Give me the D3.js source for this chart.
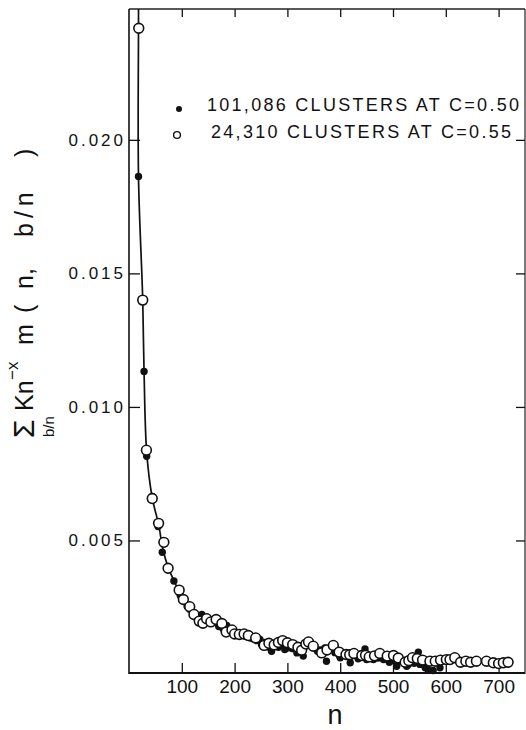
<!DOCTYPE html>
<html>
<head>
<meta charset="utf-8">
<script src="https://cdn.jsdelivr.net/npm/d3@7"></script>
<style>
  html, body { margin: 0; padding: 0; background: #fff; }
  svg { display: block; }
  text { font-family: "Liberation Sans", Arial, sans-serif; fill: #111; }
</style>
</head>
<body>
<svg id="chart" width="526" height="730"></svg>
<script>
// ---- data ----
const xTicks = [100, 200, 300, 400, 500, 600, 700];
const xTickLabels = ["100", "200", "300", "400", "500", "600", "700"];
const yTicks = [0.005, 0.010, 0.015, 0.020];
const yTickLabels = ["0.005", "0.010", "0.015", "0.020"];

const seriesNames = ["101,086  CLUSTERS AT C=0.50", "24,310  CLUSTERS AT C=0.55"];

// filled dots: C = 0.50
const filledN = [18, 28.5, 33.5, 44, 55, 63, 74, 85, 97, 110, 115, 123, 128, 138, 141, 150, 155, 160, 170, 178,
  185, 191, 195, 200, 204, 207, 212, 216, 222, 230, 235, 242, 248, 251, 258, 264, 267, 270, 278, 283,
  288, 295, 302, 310, 318, 318, 325, 330, 335, 343, 350, 357, 362, 371, 374, 381, 390, 399, 400, 410,
  419, 421, 430, 434, 440, 447, 450, 463, 470, 475, 482, 493, 494, 500, 507, 516, 523, 526, 529, 540,
  548, 551, 561, 567, 576, 589];
const filledV = [0.01863, 0.01133, 0.00815, 0.00665, 0.00552, 0.00456, 0.00396, 0.00348, 0.00294, 0.00254, 0.00242, 0.00230, 0.00220, 0.00223, 0.00210, 0.00200, 0.00195, 0.00204, 0.00178, 0.00170,
  0.00182, 0.00160, 0.00160, 0.00158, 0.00154, 0.00148, 0.00145, 0.00152, 0.00140, 0.00135, 0.00132, 0.00125, 0.00129, 0.00110, 0.00118, 0.00114, 0.00098, 0.00085, 0.00105, 0.00100,
  0.00112, 0.00092, 0.00098, 0.00095, 0.00092, 0.00079, 0.00100, 0.00067, 0.00107, 0.00117, 0.00100, 0.00085, 0.00090, 0.00098, 0.00048, 0.00092, 0.00080, 0.00067, 0.00061, 0.00075,
  0.00042, 0.00067, 0.00070, 0.00057, 0.00075, 0.00094, 0.00054, 0.00054, 0.00060, 0.00061, 0.00054, 0.00044, 0.00054, 0.00050, 0.00029, 0.00048, 0.00048, 0.00029, 0.00036, 0.00040,
  0.00082, 0.00036, 0.00023, 0.00014, 0.00013, 0.00023];

// open circles: C = 0.55
const openN = [18.5, 26, 33, 44, 56, 66, 74, 95, 103, 115, 123, 133, 140, 147, 155, 165, 176, 184, 195, 200,
  209, 218, 226, 240, 256, 265, 275, 283, 291, 300, 310, 320, 327, 335, 340, 349, 365, 375, 387, 398,
  411, 418, 426, 441, 448, 455, 465, 475, 489, 501, 510, 523, 530, 537, 546, 556, 570, 580, 590, 601,
  608, 617, 628, 638, 647, 658, 677, 690, 700, 709, 718];
const openV = [0.02418, 0.01400, 0.00838, 0.00657, 0.00564, 0.00493, 0.00396, 0.00314, 0.00279, 0.00252, 0.00223, 0.00198, 0.00190, 0.00207, 0.00195, 0.00204, 0.00189, 0.00157, 0.00165, 0.00150,
  0.00148, 0.00150, 0.00144, 0.00135, 0.00107, 0.00115, 0.00109, 0.00118, 0.00125, 0.00117, 0.00110, 0.00100, 0.00089, 0.00112, 0.00120, 0.00104, 0.00079, 0.00090, 0.00107, 0.00082,
  0.00073, 0.00072, 0.00077, 0.00069, 0.00070, 0.00064, 0.00068, 0.00077, 0.00067, 0.00069, 0.00060, 0.00044, 0.00050, 0.00061, 0.00058, 0.00052, 0.00048, 0.00048, 0.00052, 0.00054,
  0.00054, 0.00061, 0.00044, 0.00048, 0.00044, 0.00048, 0.00048, 0.00042, 0.00039, 0.00042, 0.00044];

// hand-drawn fitted curve
const curveN = [18, 18, 18, 26, 28.5, 33.5, 44, 56, 64, 74, 85, 97, 110, 125, 140, 160, 180];
const curveV = [0.0249, 0.0242, 0.0186, 0.0140, 0.01133, 0.0083, 0.0066, 0.0056, 0.0047, 0.0040, 0.0035, 0.0030, 0.00255, 0.0022, 0.0020, 0.00185, 0.0017];

// ---- drawing ----
const svg = d3.select("#chart");
svg.append("rect").attr("width", 526).attr("height", 730).attr("fill", "#fff");

const x = d3.scaleLinear().domain([0, 750]).range([129, 525]);
const y = d3.scaleLinear().domain([0, 0.0249]).range([674, 9]);

const [x0, x1] = x.range();
const [yB, yT] = y.range();

// axes with inward ticks
const gBottom = svg.append("g").attr("transform", `translate(0,${yB})`)
  .call(d3.axisBottom(x).tickValues(xTicks).tickFormat((d, i) => xTickLabels[i]).tickSize(-11).tickPadding(6));
gBottom.selectAll("text").attr("font-size", 19).attr("font-family", "Liberation Sans");

const gTop = svg.append("g").attr("transform", `translate(0,${yT})`)
  .call(d3.axisTop(x).tickValues(xTicks).tickFormat("").tickSize(-8));

const gLeft = svg.append("g").attr("transform", `translate(${x0},0)`)
  .call(d3.axisLeft(y).tickValues(yTicks).tickFormat((d, i) => yTickLabels[i]).tickSize(-11).tickPadding(3));
gLeft.selectAll("text").attr("font-size", 17).attr("letter-spacing", "3px").attr("font-family", "Liberation Sans");

const gRight = svg.append("g").attr("transform", `translate(${x1},0)`)
  .call(d3.axisRight(y).tickValues(yTicks).tickFormat("").tickSize(-9));

[gBottom, gTop, gLeft, gRight].forEach(g => {
  g.select(".domain").remove();
  g.selectAll(".tick line").attr("stroke", "#111").attr("stroke-width", 1.3);
  g.selectAll("text").attr("fill", "#111");
});

// frame
svg.append("line").attr("x1", x0).attr("x2", x0).attr("y1", yT).attr("y2", yB).attr("stroke", "#111").attr("stroke-width", 1.6);
svg.append("line").attr("x1", x0).attr("x2", x1).attr("y1", yT).attr("y2", yT).attr("stroke", "#222").attr("stroke-width", 1.3);
svg.append("line").attr("x1", x0).attr("x2", x1).attr("y1", yB - 1).attr("y2", yB - 1).attr("stroke", "#111").attr("stroke-width", 2);
svg.append("line").attr("x1", x1).attr("x2", x1).attr("y1", yT).attr("y2", yB).attr("stroke", "#222").attr("stroke-width", 1.2);

// curve
const curveData = curveN.map((n, i) => [n, curveV[i]]);
svg.append("path")
  .attr("d", d3.line().x(d => x(d[0])).y(d => y(d[1])).curve(d3.curveCatmullRom.alpha(0.5))(curveData))
  .attr("fill", "none").attr("stroke", "#111").attr("stroke-width", 1.7);

// points
const filled = filledN.map((n, i) => ({ n, v: filledV[i] }));
const open = openN.map((n, i) => ({ n, v: openV[i] }));

svg.append("g").selectAll("circle").data(filled).join("circle")
  .attr("cx", d => x(d.n)).attr("cy", d => y(d.v)).attr("r", 3.7)
  .attr("fill", "#111");

svg.append("g").selectAll("circle").data(open).join("circle")
  .attr("cx", d => x(d.n)).attr("cy", d => y(d.v)).attr("r", 4.9)
  .attr("fill", "#fff").attr("stroke", "#111").attr("stroke-width", 1.6);

// legend
const lg = svg.append("g");
lg.append("circle").attr("cx", 179).attr("cy", 109).attr("r", 3).attr("fill", "#111");
lg.append("circle").attr("cx", 177).attr("cy", 135).attr("r", 3.4).attr("fill", "#fff").attr("stroke", "#111").attr("stroke-width", 1.4);
lg.append("text").attr("x", 207).attr("y", 111).attr("font-size", 18)
  .attr("textLength", 312).attr("lengthAdjust", "spacing").text(seriesNames[0]);
lg.append("text").attr("x", 211).attr("y", 138).attr("font-size", 18)
  .attr("textLength", 300).attr("lengthAdjust", "spacing").text(seriesNames[1]);

// x title
svg.append("text").attr("x", 335).attr("y", 724).attr("text-anchor", "middle")
  .attr("font-size", 27).text("n");

// y title (rotated)
const yt = svg.append("g").attr("transform", "translate(33,437) rotate(-90)");
yt.append("text").attr("x", -1).attr("y", 1).attr("font-size", 30).text("Σ");
yt.append("text").attr("x", 0).attr("y", 21).attr("font-size", 15).text("b/n");
yt.append("text").attr("x", 26).attr("y", 0).attr("font-size", 25).text("Kn");
yt.append("text").attr("x", 57).attr("y", -15).attr("font-size", 17).text("−x");
yt.append("text").attr("x", 92).attr("y", 0).attr("font-size", 25).text("m");
yt.append("text").attr("x", 124).attr("y", 0).attr("font-size", 25).text("(");
yt.append("text").attr("x", 148).attr("y", 0).attr("font-size", 25).text("n,");
yt.append("text").attr("x", 200).attr("y", 0).attr("font-size", 25).attr("letter-spacing", "5px").text("b/n");
yt.append("text").attr("x", 280).attr("y", 0).attr("font-size", 25).text(")");
</script>
</body>
</html>
